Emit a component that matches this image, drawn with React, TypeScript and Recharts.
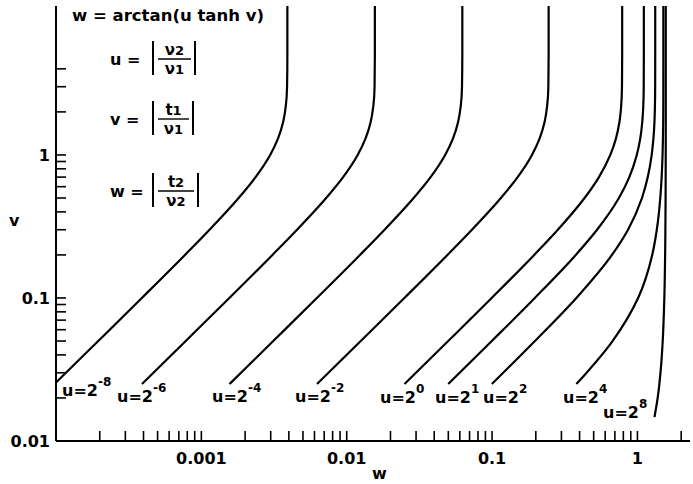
import React from "react";
import { LineChart, Line, XAxis, YAxis } from "recharts";

const vSteps = [0.025, 0.05, 0.1, 0.2, 0.3, 0.5, 0.7, 1, 1.3, 1.7, 2.2, 3, 5, 11];
const vStepsSteep = [0.0147, 0.02, 0.025, 0.035, 0.05, 0.1, 0.2, 0.3, 0.5, 0.7, 1, 1.3, 1.7, 2.2, 3, 5, 11];

// w read for each curve u = 2^k
const wUm8 = [0.0000976, 0.0001952, 0.0003895, 0.0007711, 0.001138, 0.001805, 0.002361, 0.002975, 0.003366, 0.003654, 0.003811, 0.003887, 0.003906, 0.003906];
const wUm6 = [0.0003905, 0.0007806, 0.001558, 0.003084, 0.004552, 0.00722, 0.009444, 0.0119, 0.01346, 0.01462, 0.01525, 0.01555, 0.01562, 0.01562];
const wUm4 = [0.001562, 0.003123, 0.006231, 0.01234, 0.01821, 0.02887, 0.03776, 0.04756, 0.05381, 0.05839, 0.0609, 0.06211, 0.06242, 0.06242];
const wUm2 = [0.006248, 0.01249, 0.02492, 0.04931, 0.0727, 0.115, 0.15, 0.1882, 0.2122, 0.2298, 0.2393, 0.2439, 0.245, 0.245];
const wU0 = [0.02498, 0.04992, 0.09937, 0.1949, 0.2835, 0.4329, 0.5437, 0.6509, 0.7113, 0.752, 0.7731, 0.7829, 0.7854, 0.7854];
const wU1 = [0.04994, 0.09959, 0.1968, 0.3766, 0.5275, 0.746, 0.8797, 0.9898, 1.0457, 1.0798, 1.0971, 1.1051, 1.1071, 1.1071];
const wU2 = [0.09963, 0.1972, 0.3801, 0.6682, 0.8616, 1.0749, 1.1785, 1.2536, 1.2884, 1.3096, 1.32, 1.3247, 1.3258, 1.3258];
const wU4 = [0.3803, 0.6743, 1.0108, 1.2642, 1.3594, 1.4364, 1.4678, 1.4889, 1.4984, 1.5041, 1.5068, 1.5081, 1.5084, 1.5084];
const wU8 = [1.3111, 1.3779, 1.4158, 1.4596, 1.4928, 1.5316, 1.551, 1.5574, 1.5624, 1.5643, 1.5657, 1.5663, 1.5666, 1.5668, 1.5669, 1.5669, 1.5669];

const xTicks = [
  0.0002, 0.0003, 0.0004, 0.0005, 0.0006, 0.0007, 0.0008, 0.0009,
  0.001, 0.002, 0.003, 0.004, 0.005, 0.006, 0.007, 0.008, 0.009,
  0.01, 0.02, 0.03, 0.04, 0.05, 0.06, 0.07, 0.08, 0.09,
  0.1, 0.2, 0.3, 0.4, 0.5, 0.6, 0.7, 0.8, 0.9,
  1, 2,
];
const yTicks = [
  0.01, 0.02, 0.03, 0.04, 0.05, 0.06, 0.07, 0.08, 0.09,
  0.1, 0.2, 0.3, 0.4, 0.5, 0.6, 0.7, 0.8, 0.9,
  1, 2, 3, 4,
];
const xTickLabels: Record<string, string> = { "0.001": "0.001", "0.01": "0.01", "0.1": "0.1", "1": "1" };
const yTickLabels: Record<string, string> = { "0.01": "0.01", "0.1": "0.1", "1": "1" };

const zip = (vs: number[], ws: number[]) => vs.map((v, i) => ({ v, w: ws[i] }));

const curves = [
  { name: "u=2^-8", data: zip(vSteps, wUm8) },
  { name: "u=2^-6", data: zip(vSteps, wUm6) },
  { name: "u=2^-4", data: zip(vSteps, wUm4) },
  { name: "u=2^-2", data: zip(vSteps, wUm2) },
  { name: "u=2^0", data: zip(vSteps, wU0) },
  { name: "u=2^1", data: zip(vSteps, wU1) },
  { name: "u=2^2", data: zip(vSteps, wU2) },
  { name: "u=2^4", data: zip(vSteps, wU4) },
  { name: "u=2^8", data: zip(vStepsSteep, wU8) },
];

const FONT = "'DejaVu Sans', 'Liberation Sans', sans-serif";

const XTick = (props: any) => {
  const { x, y, payload } = props;
  const label = xTickLabels[String(payload.value)];
  return (
    <g>
      <line x1={x} y1={y} x2={x} y2={y - 10} stroke="#000" strokeWidth={1.6} />
      {label && (
        <text x={x} y={y + 23} textAnchor="middle" fontSize={16} fontWeight={700} fontFamily={FONT} fill="#000">
          {label}
        </text>
      )}
    </g>
  );
};

const YTick = (props: any) => {
  const { x, y, payload } = props;
  const label = yTickLabels[String(payload.value)];
  return (
    <g>
      <line x1={x} y1={y} x2={x + 10} y2={y} stroke="#000" strokeWidth={1.6} />
      {label && (
        <text x={x - 6} y={y + 6} textAnchor="end" fontSize={16} fontWeight={700} fontFamily={FONT} fill="#000">
          {label}
        </text>
      )}
    </g>
  );
};

const txt = { fontFamily: FONT, fontWeight: 700, fill: "#000" } as const;

function CurveLabel({ x, y, exp }: { x: number; y: number; exp: string }) {
  return (
    <text x={x} y={y} fontSize={16} {...txt}>
      u=2
      <tspan dy={-10} fontSize={12}>{exp}</tspan>
    </text>
  );
}

function Fraction({ lhs, y, num, numSub, den, denSub, right }: any) {
  // y = fraction bar position
  const cx = (158 + right - 4) / 2;
  return (
    <g>
      <text x={110} y={y + 6} fontSize={16} {...txt}>{lhs} =</text>
      <line x1={153} y1={y - 18} x2={153} y2={y + 16} stroke="#000" strokeWidth={2} />
      <line x1={right} y1={y - 18} x2={right} y2={y + 16} stroke="#000" strokeWidth={2} />
      <line x1={158} y1={y} x2={right - 4} y2={y} stroke="#000" strokeWidth={1.4} />
      <text x={cx} y={y - 4} fontSize={15} textAnchor="middle" {...txt}>
        {num}
        <tspan fontSize={13}>{numSub}</tspan>
      </text>
      <text x={cx} y={y + 15} fontSize={15} textAnchor="middle" {...txt}>
        {den}
        <tspan fontSize={13}>{denSub}</tspan>
      </text>
    </g>
  );
}

export default function App() {
  return (
    <div style={{ position: "relative", width: 693, height: 484, background: "#fff" }}>
      <style>{`body{margin:0;background:#fff}`}</style>
      <LineChart width={693} height={484} margin={{ top: 6, right: 3, left: 0, bottom: 0 }}>
        <XAxis
          dataKey="w"
          type="number"
          scale="log"
          domain={[0.0001, 2.3]}
          allowDataOverflow
          ticks={xTicks}
          interval={0}
          height={43}
          tickSize={0}
          tickMargin={0}
          tickLine={false}
          tick={<XTick />}
          axisLine={{ stroke: "#000", strokeWidth: 2 }}
        />
        <YAxis
          dataKey="v"
          type="number"
          scale="log"
          domain={[0.01, 11]}
          allowDataOverflow
          ticks={yTicks}
          interval={0}
          width={56}
          tickSize={0}
          tickMargin={0}
          tickLine={false}
          tick={<YTick />}
          axisLine={{ stroke: "#000", strokeWidth: 2 }}
        />
        {curves.map((c) => (
          <Line
            key={c.name}
            name={c.name}
            data={c.data}
            dataKey="v"
            type="monotoneY"
            stroke="#000"
            strokeWidth={2.2}
            dot={false}
            activeDot={false}
            isAnimationActive={false}
          />
        ))}
      </LineChart>
      <svg width={693} height={484} style={{ position: "absolute", left: 0, top: 0, pointerEvents: "none" }}>
        <text x={72} y={21} fontSize={16.5} {...txt}>w = arctan(u tanh v)</text>
        <Fraction lhs="u" y={59} num="ν" numSub="2" den="ν" denSub="1" right={195} />
        <Fraction lhs="v" y={119} num="t" numSub="1" den="ν" denSub="1" right={193} />
        <Fraction lhs="w" y={191} num="t" numSub="2" den="ν" denSub="2" right={198} />
        <text x={9} y={226} fontSize={16} {...txt}>v</text>
        <text x={372} y={479} fontSize={16} {...txt}>w</text>
        <CurveLabel x={62} y={396} exp="-8" />
        <CurveLabel x={117} y={402} exp="-6" />
        <CurveLabel x={212} y={402} exp="-4" />
        <CurveLabel x={295} y={402} exp="-2" />
        <CurveLabel x={380} y={403} exp="0" />
        <CurveLabel x={435} y={403} exp="1" />
        <CurveLabel x={483} y={403} exp="2" />
        <CurveLabel x={563} y={403} exp="4" />
        <CurveLabel x={603} y={418} exp="8" />
      </svg>
    </div>
  );
}
